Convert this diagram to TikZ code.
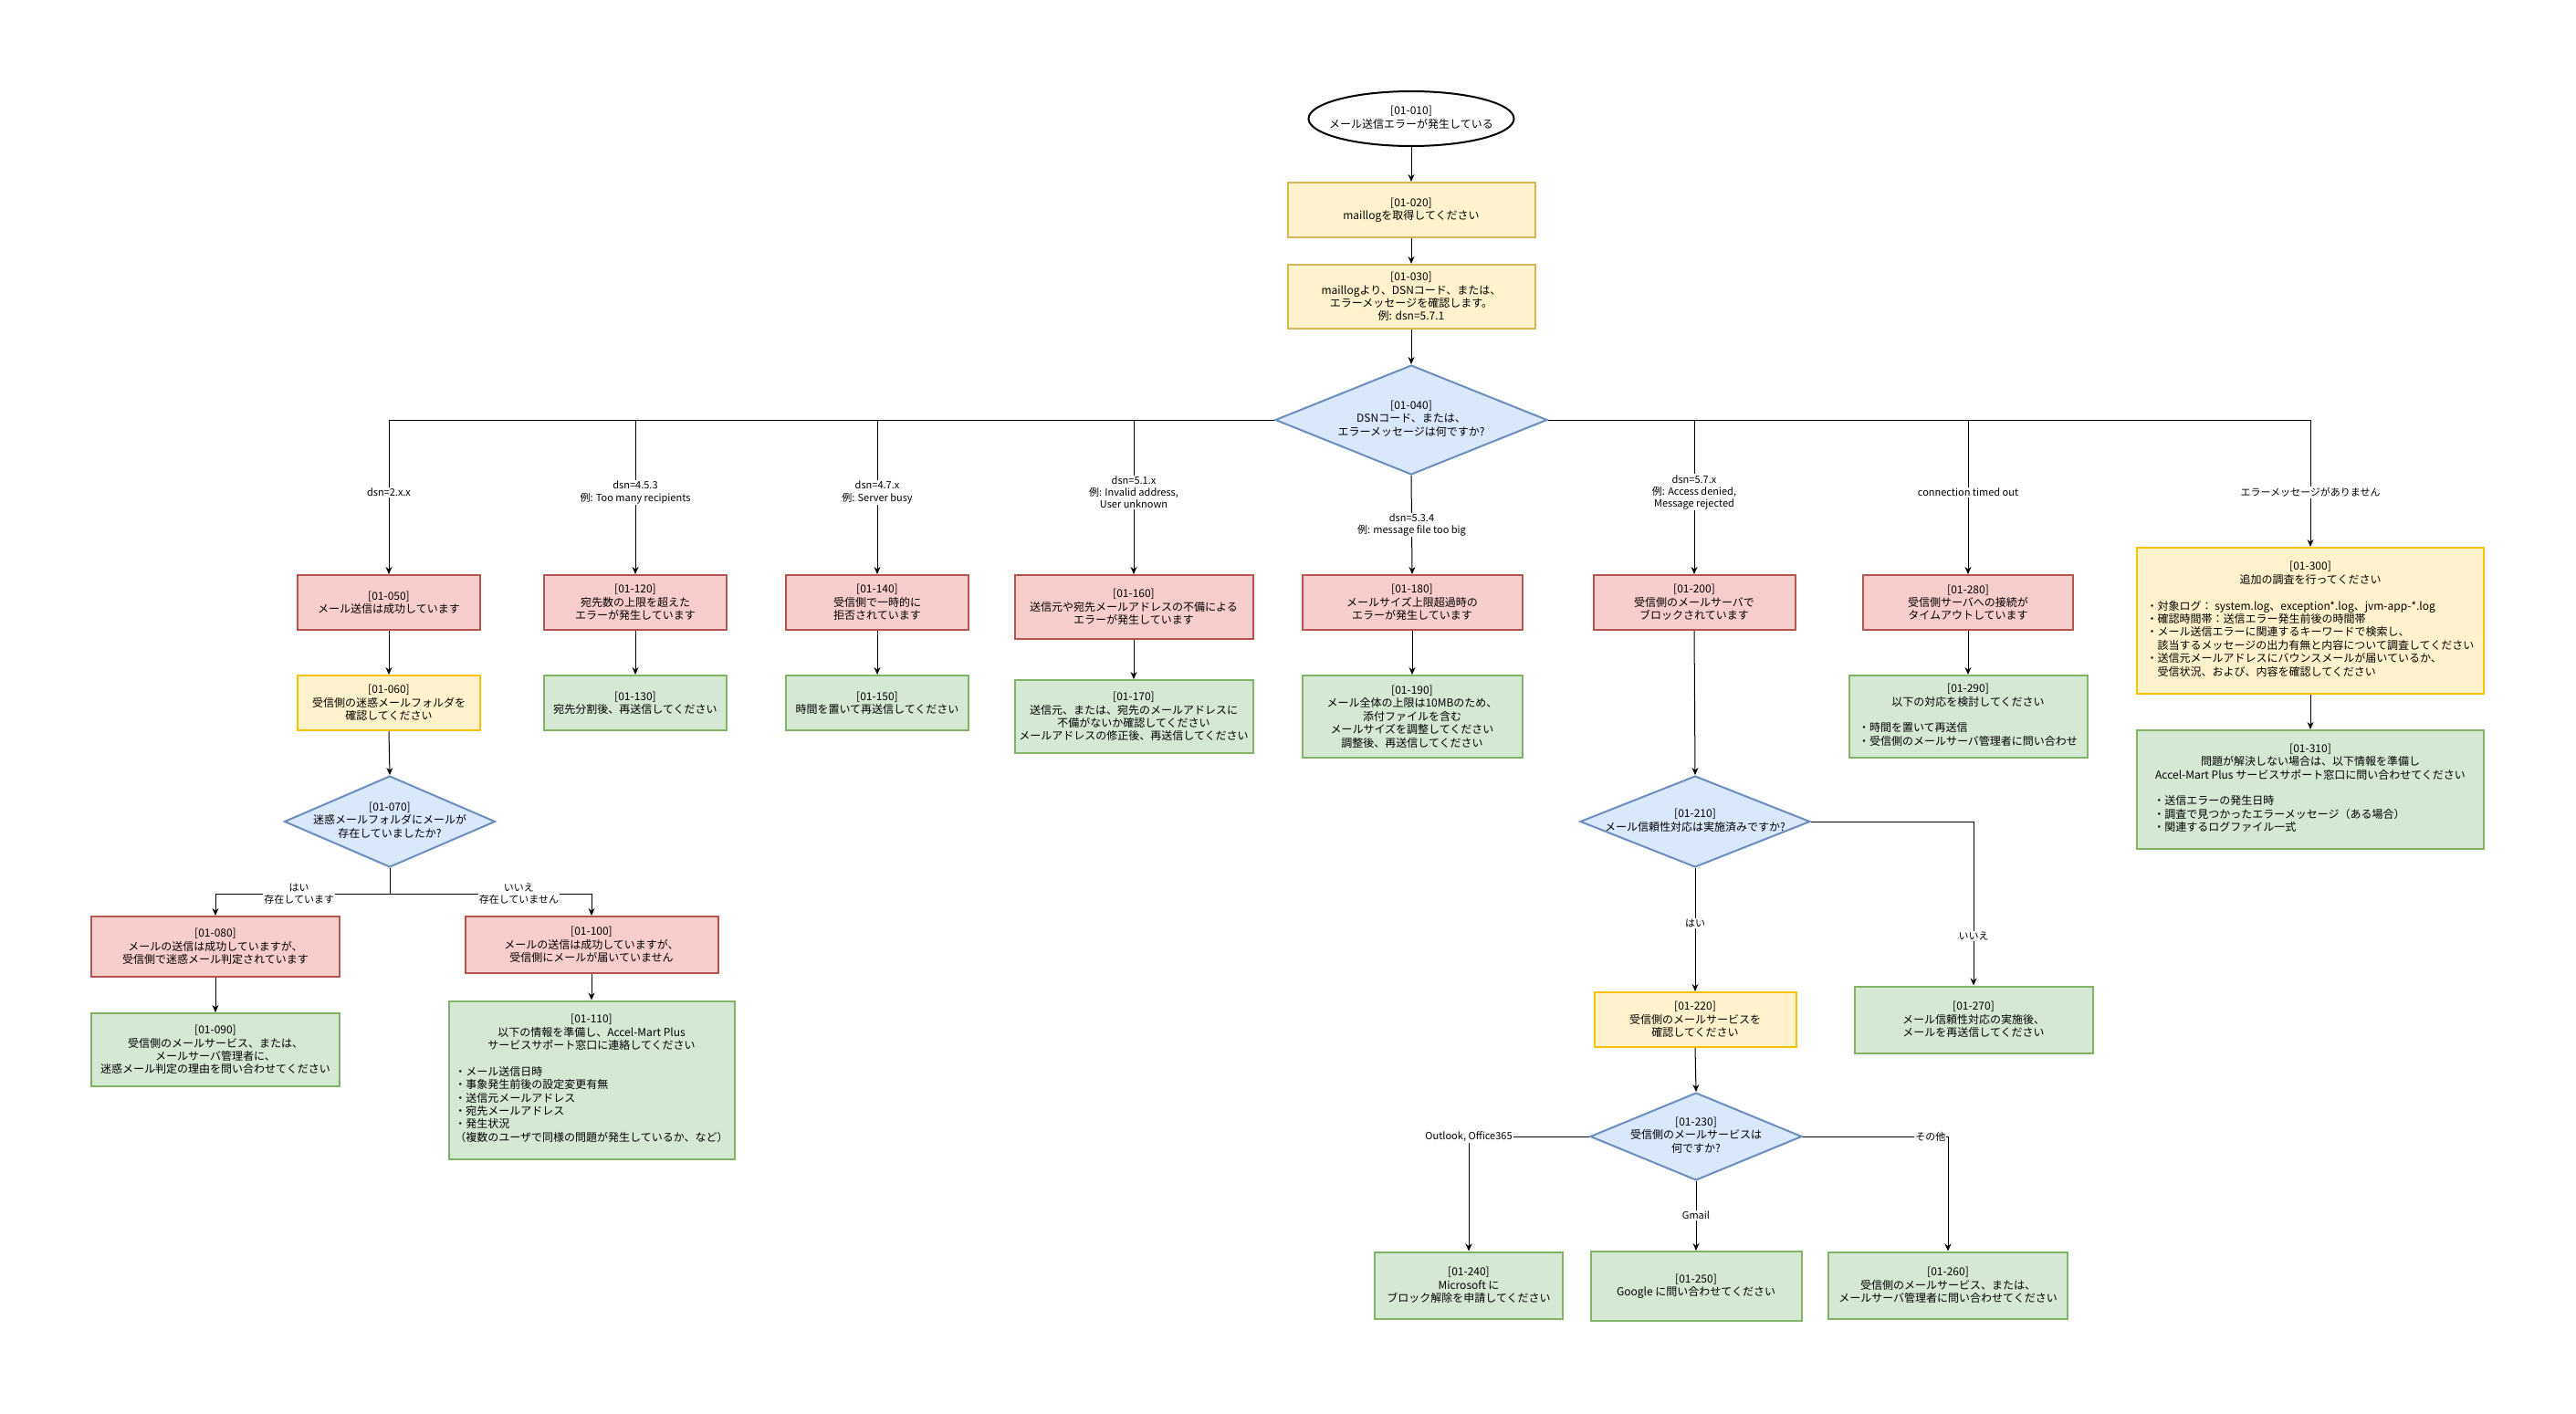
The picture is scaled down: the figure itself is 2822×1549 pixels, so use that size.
\documentclass[tikz,border=0pt]{standalone}
\usepackage{fontspec}
\setmainfont{Noto Sans CJK JP}
\usetikzlibrary{shapes.geometric,arrows.meta}
\definecolor{bluef}{HTML}{DAE8FC}
\definecolor{blued}{HTML}{6C8EBF}
\definecolor{redf}{HTML}{F8CECC}
\definecolor{redd}{HTML}{B85450}
\definecolor{grnf}{HTML}{D5E8D4}
\definecolor{grnd}{HTML}{82B366}
\definecolor{yelf}{HTML}{FFF2CC}
\definecolor{yeld}{HTML}{D6B656}
\definecolor{goldd}{HTML}{FFC000}
\newcommand{\ctext}[1]{\makebox[0pt]{\begin{tabular}{@{}c@{}}#1\end{tabular}}}

\begin{document}
\begin{tikzpicture}[x=1pt, y=-1pt,
  nfont/.style={font=\fontsize{12}{14.4}\selectfont},
  sz/.style 2 args={minimum width=#1pt, minimum height=#2pt},
  flowbox/.style={draw, line width=2pt, inner sep=2pt, align=center, nfont},
  errbox/.style={flowbox, draw=redd, fill=redf},
  okbox/.style={flowbox, draw=grnd, fill=grnf},
  logbox/.style={flowbox, draw=yeld, fill=yelf},
  askbox/.style={flowbox, draw=goldd, fill=yelf},
  decision/.style={diamond, draw=blued, fill=bluef, line width=2pt, inner sep=0pt, nfont},
  startnode/.style={ellipse, draw, line width=2pt, fill=white, inner sep=0pt, nfont},
  arr/.style={-{Stealth[length=8pt,width=7pt]}, line width=1pt},
  lbl/.style={fill=white, inner sep=1pt, align=center, font=\fontsize{11}{13.2}\selectfont}]
\useasboundingbox (0,0) rectangle (2822,1549);

\node[startnode, sz={225}{60}] (n010) at (1546,130) {\ctext{[01-010]\\メール送信エラーが発生している}};
\node[logbox, sz={271}{60}] (n020) at (1546,230) {[01-020]\\maillogを取得してください};
\node[logbox, sz={271}{70}] (n030) at (1546,325) {[01-030]\\maillogより、DSNコード、または、\\エラーメッセージを確認します。\\例: dsn=5.7.1};
\node[decision, sz={298}{120}] (d040) at (1546,460) {\ctext{[01-040]\\DSNコード、または、\\エラーメッセージは何ですか?}};

\node[errbox, sz={200}{60}] (n050) at (426,660) {[01-050]\\メール送信は成功しています};
\node[askbox, sz={200}{60}] (n060) at (426,770) {[01-060]\\受信側の迷惑メールフォルダを\\確認してください};
\node[decision, sz={231}{100}] (d070) at (427,900) {\ctext{[01-070]\\迷惑メールフォルダにメールが\\存在していましたか?}};
\node[errbox, sz={272}{66}] (n080) at (236,1037) {[01-080]\\メールの送信は成功していますが、\\受信側で迷惑メール判定されています};
\node[okbox, sz={272}{80}] (n090) at (236,1150) {[01-090]\\受信側のメールサービス、または、\\メールサーバ管理者に、\\迷惑メール判定の理由を問い合わせてください};
\node[errbox, sz={277}{62}] (n100) at (648,1035) {[01-100]\\メールの送信は成功していますが、\\受信側にメールが届いていません};
\node[okbox, sz={313}{173}] (n110) at (648,1183) {[01-110]\\以下の情報を準備し、Accel-Mart Plus\\サービスサポート窓口に連絡してください\\[14.4pt]\begin{tabular}[t]{@{}l@{}}・メール送信日時\\・事象発生前後の設定変更有無\\・送信元メールアドレス\\・宛先メールアドレス\\・発生状況\\（複数のユーザで同様の問題が発生しているか、など）\end{tabular}};

\node[errbox, sz={200}{60}] (n120) at (696,660) {[01-120]\\宛先数の上限を超えた\\エラーが発生しています};
\node[okbox, sz={200}{60}] (n130) at (696,770) {[01-130]\\宛先分割後、再送信してください};
\node[errbox, sz={200}{60}] (n140) at (961,660) {[01-140]\\受信側で一時的に\\拒否されています};
\node[okbox, sz={200}{60}] (n150) at (961,770) {[01-150]\\時間を置いて再送信してください};
\node[errbox, sz={261}{70}] (n160) at (1242,665) {[01-160]\\送信元や宛先メールアドレスの不備による\\エラーが発生しています};
\node[okbox, sz={261}{80}] (n170) at (1242,785) {[01-170]\\送信元、または、宛先のメールアドレスに\\不備がないか確認してください\\メールアドレスの修正後、再送信してください};
\node[errbox, sz={241}{60}] (n180) at (1547,660) {[01-180]\\メールサイズ上限超過時の\\エラーが発生しています};
\node[okbox, sz={241}{90}] (n190) at (1547,785) {[01-190]\\メール全体の上限は10MBのため、\\添付ファイルを含む\\メールサイズを調整してください\\調整後、再送信してください};

\node[errbox, sz={221}{60}] (n200) at (1856,660) {[01-200]\\受信側のメールサーバで\\ブロックされています};
\node[decision, sz={252}{100}] (d210) at (1857,900) {\ctext{[01-210]\\メール信頼性対応は実施済みですか?}};
\node[askbox, sz={221}{60}] (n220) at (1857,1117) {[01-220]\\受信側のメールサービスを\\確認してください};
\node[decision, sz={232}{96}] (d230) at (1858,1245) {\ctext{[01-230]\\受信側のメールサービスは\\何ですか?}};
\node[okbox, sz={206}{73}] (n240) at (1609,1408) {[01-240]\\Microsoft に\\ブロック解除を申請してください};
\node[okbox, sz={231}{76}] (n250) at (1858,1409) {[01-250]\\Google に問い合わせてください};
\node[okbox, sz={262}{73}] (n260) at (2134,1408) {[01-260]\\受信側のメールサービス、または、\\メールサーバ管理者に問い合わせてください};
\node[okbox, sz={261}{73}] (n270) at (2162,1117) {[01-270]\\メール信頼性対応の実施後、\\メールを再送信してください};

\node[errbox, sz={230}{60}] (n280) at (2156,660) {[01-280]\\受信側サーバへの接続が\\タイムアウトしています};
\node[okbox, sz={261}{90}] (n290) at (2156,785) {[01-290]\\以下の対応を検討してください\\[14.4pt]\begin{tabular}[t]{@{}l@{}}・時間を置いて再送信\\・受信側のメールサーバ管理者に問い合わせ\end{tabular}};
\node[askbox, sz={380}{160}] (n300) at (2531,680) {[01-300]\\追加の調査を行ってください\\[14.4pt]\begin{tabular}[t]{@{}l@{}}・対象ログ： system.log、exception*.log、jvm-app-*.log\\・確認時間帯：送信エラー発生前後の時間帯\\・メール送信エラーに関連するキーワードで検索し、\\　該当するメッセージの出力有無と内容について調査してください\\・送信元メールアドレスにバウンスメールが届いているか、\\　受信状況、および、内容を確認してください\end{tabular}};
\node[okbox, sz={380}{130}] (n310) at (2531,865) {[01-310]\\問題が解決しない場合は、以下情報を準備し\\Accel-Mart Plus サービスサポート窓口に問い合わせてください\\[14.4pt]\begin{tabular}[t]{@{}l@{\hspace{68pt}}}・送信エラーの発生日時\\・調査で見つかったエラーメッセージ（ある場合）\\・関連するログファイル一式\end{tabular}};

\foreach \a/\b in {n010/n020, n020/n030, n030/d040, n050/n060, n060/d070, n080/n090, n100/n110, n120/n130, n140/n150, n160/n170, n180/n190, n200/d210, n220/d230, n280/n290, n300/n310}
  \draw[arr] (\a.south) -- (\b.north);

\draw[arr] (d040.west) -| node[lbl, pos=.735] {dsn=2.x.x} (n050.north);
\draw[arr] (d040.west) -| node[lbl, pos=.735] {dsn=4.5.3\\例: Too many recipients} (n120.north);
\draw[arr] (d040.west) -| node[lbl, pos=.735] {dsn=4.7.x\\例: Server busy} (n140.north);
\draw[arr] (d040.west) -| node[lbl, pos=.735] {dsn=5.1.x\\例: Invalid address,\\User unknown} (n160.north);
\draw[arr] (d040.south) -- node[lbl, pos=.5] {dsn=5.3.4\\例: message file too big} (n180.north);
\draw[arr] (d040.east) -| node[lbl, pos=.735] {dsn=5.7.x\\例: Access denied,\\Message rejected} (n200.north);
\draw[arr] (d040.east) -| node[lbl, pos=.735] {connection timed out} (n280.north);
\draw[arr] (d040.east) -| node[lbl, pos=.786] {エラーメッセージがありません} (n300.north);

\draw[arr] (d070.south) -- ++(0,28) -| node[lbl, pos=.26] {はい\\存在しています} (n080.north);
\draw[arr] (d070.south) -- ++(0,28) -| node[lbl, pos=.32] {いいえ\\存在していません} (n100.north);

\draw[arr] (d210.south) -- node[lbl, pos=.45] {はい} (n220.north);
\draw[arr] (d210.east) -| node[lbl, pos=.85] {いいえ} (n270.north);

\draw[arr] (d230.west) -| node[lbl, pos=.5] {Outlook, Office365} (n240.north);
\draw[arr] (d230.south) -- node[lbl, pos=.49] {Gmail} (n250.north);
\draw[arr] (d230.east) -| node[lbl, pos=.44] {その他} (n260.north);
\end{tikzpicture}
\end{document}
